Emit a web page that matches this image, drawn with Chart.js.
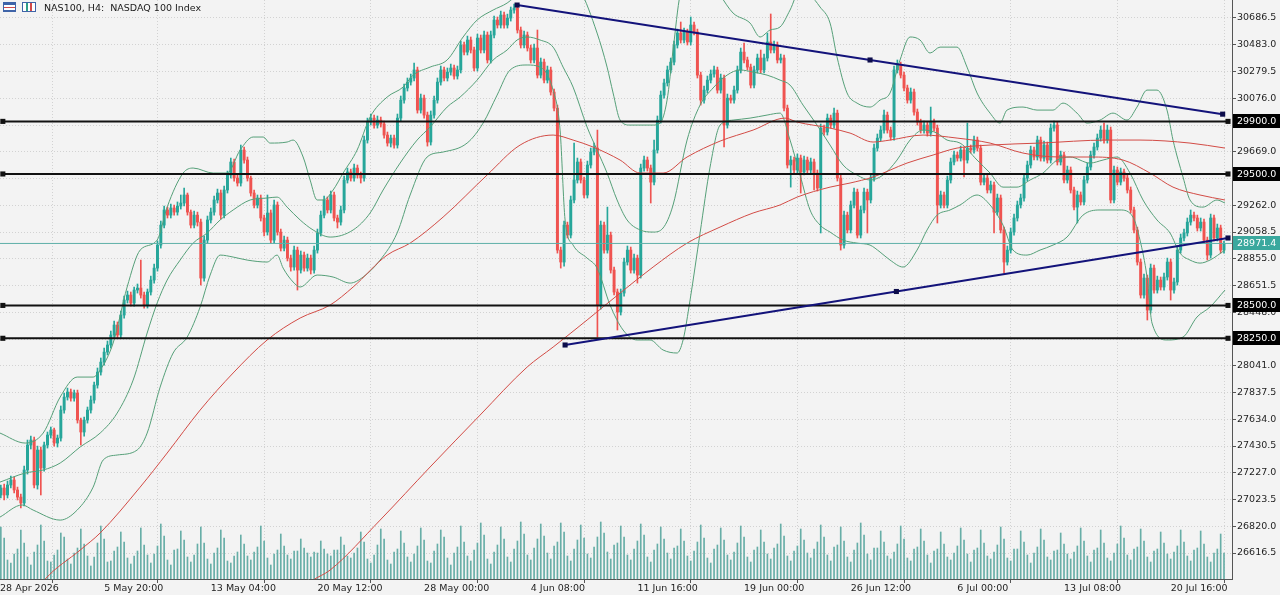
<!DOCTYPE html>
<html>
<head>
<meta charset="utf-8">
<title>NAS100, H4</title>
<script src="https://cdn.jsdelivr.net/npm/chart.js@4.4.1/dist/chart.umd.min.js"></script>
<style>
  html, body { margin: 0; padding: 0; background: #f3f3f3; }
  #wrap { position: relative; width: 1280px; height: 595px; overflow: hidden; }
  #title { position: absolute; left: 3px; top: 1px; height: 12px; display: flex; align-items: center;
           font: 9.5px "DejaVu Sans", sans-serif; color: #1a1a1a; white-space: pre; pointer-events: none; }
  .ico1 { width: 13px; height: 10px; box-sizing: border-box; border: 1px solid #3f64a8; background:
          linear-gradient(#3f64a8 0 2px, #fff 2px 4px, #d24a4a 4px 5px, #fff 5px 7px, #3f64a8 7px 8px); margin-right: 6px; }
  .ico2 { width: 14px; height: 10px; box-sizing: border-box; border: 1px solid #3f64a8; background:
          linear-gradient(90deg, #fff 0 3px, #2f9e8a 3px 5px, #fff 5px 7px, #d24a4a 7px 9px, #fff 9px); margin-right: 8px; }
</style>
</head>
<body>
<div id="wrap">
  <canvas id="chart" width="1280" height="595"></canvas>
  <div id="title"><span class="ico1"></span><span class="ico2"></span>NAS100, H4:  NASDAQ 100 Index</div>
</div>
<script>
// --- time axis (one label every 32 H4 bars) ---
const tickBars = [0.76, 32, 64, 96, 128, 160, 192, 224, 256, 288, 320, 352];
const timeLabels = ['28 Apr 2026', '5 May 20:00', '13 May 04:00', '20 May 12:00', '28 May 00:00', '4 Jun 08:00',
  '11 Jun 16:00', '19 Jun 00:00', '26 Jun 12:00', '6 Jul 00:00', '13 Jul 08:00', '20 Jul 16:00'];

// --- price axis ---
const priceTicks = [26616.5, 26820.0, 27023.5, 27227.0, 27430.5, 27634.0, 27837.5, 28041.0, 28244.5, 28448.0,
  28651.5, 28855.0, 29058.5, 29262.0, 29465.5, 29669.0, 29872.5, 30076.0, 30279.5, 30483.0, 30686.5];

// --- candles (bar 0 = first bar on the left) ---
const opens = [
  26943,27058,27111,27058,27134,27172,27096,27042,26997,27248, 27438,27476,27134,27400,27263,27438,27514,27552,27453,27491,
  27704,27803,27841,27795,27833,27628,27537,27628,27704,27780, 27894,27993,28069,28145,28199,28275,28351,28275,28427,28541,
  28579,28518,28617,28632,28579,28503,28602,28693,28784,28959, 29111,29226,29187,29241,29210,29256,29279,29340,29210,29111,
  29187,29134,28708,28997,29150,29210,29302,29355,29187,29378, 29492,29591,29469,29431,29682,29606,29469,29355,29264,29317,
  29165,29058,29203,28997,29264,29058,28936,28997,28860,28792, 28921,28769,28883,28784,28860,28769,28921,29051,29187,29302,
  29226,29340,29165,29134,29226,29454,29515,29469,29545,29492, 29469,29758,29895,29925,29872,29910,29880,29796,29735,29773,
  29720,29925,30062,30154,30199,30230,30291,29986,30077,29948, 29743,29948,30062,30199,30291,30230,30275,30306,30245,30291,
  30481,30427,30519,30443,30306,30534,30443,30557,30367,30557, 30671,30633,30709,30633,30686,30747,30762,30595,30481,30557,
  30458,30367,30458,30252,30351,30214,30291,30123,30001,28921, 28830,29111,29035,29302,29454,29591,29454,29340,29568,29667,
  29697,28503,29111,28921,29035,28769,28602,28450,28594,28830, 28921,28769,28860,28731,29545,29606,29545,29438,29682,29910,
  30100,30192,30291,30351,30481,30572,30519,30580,30504,30633, 30580,30252,30062,30138,30214,30260,30291,30138,30230,29872,
  30077,30062,30138,30291,30427,30367,30313,30176,30291,30382, 30291,30382,30504,30443,30481,30367,30382,30001,29568,29606,
  29530,29621,29515,29606,29530,29591,29507,29393,29849,29819, 29925,29872,29963,29469,28959,29187,29074,29264,29362,29035,
  29226,29362,29302,29469,29697,29773,29834,29948,29834,29781, 30291,30329,30252,30154,30062,30123,29971,29895,29834,29872,
  29811,29895,29849,29264,29340,29264,29454,29591,29644,29621, 29682,29606,29697,29682,29758,29697,29438,29469,29378,29416,
  29210,29317,29074,28830,28921,29058,29165,29264,29317,29469, 29568,29682,29629,29758,29621,29720,29606,29849,29872,29591,
  29644,29454,29530,29378,29248,29340,29287,29454,29553,29644, 29705,29773,29834,29758,29834,29302,29530,29438,29515,29469,
  29378,29226,29074,28830,28579,28708,28465,28784,28617,28693, 28640,28716,28830,28617,28678,28921,29013,29051,29134,29187,
  29165,29089,29134,28997,28883,29165,29013,29089,28921
];
const highs = [
  27080,27134,27141,27164,27202,27194,27118,27065,27278,27476, 27506,27499,27430,27423,27461,27537,27575,27567,27514,27735,
  27833,27871,27864,27856,27856,27643,27651,27727,27811,27917, 28024,28100,28176,28229,28305,28381,28374,28457,28571,28609,
  28602,28640,28663,28845,28602,28625,28723,28815,28990,29142, 29256,29248,29271,29264,29287,29340,29393,29355,29226,29218,
  29210,29157,29028,29180,29241,29332,29385,29378,29408,29522, 29621,29614,29492,29720,29705,29629,29484,29378,29340,29340,
  29187,29340,29226,29302,29287,29081,29028,29020,28883,28952, 28944,28914,28906,28891,28883,28952,29081,29218,29332,29325,
  29370,29363,29187,29256,29484,29545,29537,29575,29568,29515, 29788,29925,29956,29948,29941,29933,29903,29819,29796,29796,
  29956,30093,30184,30230,30260,30344,30313,30108,30100,29971, 29979,30093,30230,30321,30313,30306,30336,30328,30321,30511,
  30504,30549,30542,30465,30564,30557,30587,30580,30587,30701, 30694,30739,30732,30716,30770,30793,30777,30618,30587,30580,
  30481,30488,30595,30382,30374,30321,30313,30146,30024,28944, 29142,29134,29332,29735,29621,29614,29477,29598,29697,29735,
  29834,29142,29134,29248,29058,28792,28625,28625,28860,28952, 28944,28891,28883,29575,29636,29629,29568,29758,29941,30131,
  30222,30321,30382,30511,30602,30656,30610,30602,30694,30656, 30602,30275,30169,30245,30291,30321,30313,30260,30252,30108,
  30100,30169,30321,30458,30496,30389,30336,30321,30412,30443, 30412,30572,30717,30511,30504,30412,30405,30024,29636,29629,
  29652,29644,29636,29629,29621,29614,29530,29880,29872,29956, 29948,30001,29986,29492,29218,29210,29294,29393,29385,29256,
  29393,29385,29499,29728,29804,29865,29986,29971,29857,30321, 30367,30351,30275,30176,30154,30146,29994,29917,29903,29895,
  30009,29917,29872,29370,29363,29484,29621,29674,29667,29712, 29705,29887,29720,29788,29781,29720,29499,29492,29446,29438,
  29347,29340,29096,28952,29089,29195,29294,29347,29499,29598, 29712,29705,29788,29781,29750,29743,29880,29903,29895,29674,
  29667,29560,29553,29401,29370,29363,29484,29583,29674,29735, 29804,29865,29887,29872,29857,29560,29553,29545,29537,29492,
  29401,29248,29096,28853,28739,28731,28815,28807,28723,28716, 28746,28860,28853,28708,28952,29043,29081,29165,29226,29210,
  29187,29165,29157,29020,29195,29187,29119,29111,28990
];
const lows = [
  26921,27035,27020,27035,27111,27073,27020,26959,26974,27217, 27408,27111,27103,27058,27240,27415,27491,27430,27423,27468,
  27681,27780,27772,27772,27605,27438,27506,27605,27681,27757, 27871,27970,28046,28123,28176,28252,28252,28252,28404,28518,
  28495,28495,28594,28556,28480,28480,28579,28670,28761,28936, 29089,29165,29165,29187,29187,29233,29256,29187,29089,29089,
  29104,28655,28685,28974,29127,29187,29279,29157,29165,29355, 29469,29446,29408,29408,29583,29446,29332,29241,29241,29142,
  29028,29035,28974,28974,29035,28914,28914,28838,28761,28769, 28617,28746,28761,28761,28739,28746,28898,29028,29165,29203,
  29203,29142,29089,29111,29203,29431,29446,29446,29469,29431, 29446,29735,29872,29849,29849,29857,29773,29712,29705,29697,
  29697,29902,30039,30131,30176,30207,29963,29963,29925,29712, 29720,29925,30039,30176,30207,30207,30252,30222,30222,30268,
  30405,30405,30420,30283,30283,30420,30420,30344,30344,30534, 30610,30610,30610,30610,30663,30724,30572,30458,30458,30435,
  30344,30344,30230,30230,30192,30192,30100,29979,28898,28784, 28799,29013,29013,29279,29431,29431,29317,29317,29545,29644,
  28259,28472,28898,28898,28746,28579,28313,28427,28571,28807, 28746,28746,28670,28708,29522,29522,29279,29416,29659,29887,
  30077,30169,30268,30329,30458,30496,30496,30481,30481,30557, 30230,30024,30039,30115,30192,30237,30115,30115,29705,29849,
  30039,30039,30115,30268,30344,30291,30154,30154,30268,30268, 30268,30359,30420,30420,30344,30344,29979,29545,29400,29507,
  29507,29355,29492,29507,29507,29378,29370,29051,29796,29796, 29849,29849,29446,28921,28936,29051,29051,29241,29013,29013,
  29203,29051,29279,29446,29674,29750,29811,29811,29758,29758, 30268,30230,30131,30039,30039,29948,29872,29811,29811,29788,
  29788,29826,29127,29241,29241,29241,29431,29568,29598,29598, 29477,29583,29659,29659,29674,29416,29416,29355,29355,29051,
  29187,29051,28746,28807,28898,29035,29142,29241,29294,29446, 29545,29606,29606,29598,29598,29583,29583,29826,29568,29568,
  29431,29431,29355,29226,29127,29264,29264,29431,29530,29621, 29682,29750,29735,29735,29279,29279,29416,29416,29446,29355,
  29203,29051,28807,28556,28556,28389,28442,28594,28594,28617, 28617,28693,28541,28594,28655,28898,28990,29028,29111,29142,
  29066,29066,28974,28845,28860,28990,28990,28898,28898
];
const closes = [
  27058,27111,27058,27134,27172,27096,27042,26997,27248,27438, 27476,27134,27400,27263,27438,27514,27552,27453,27491,27704,
  27803,27841,27795,27833,27628,27537,27628,27704,27780,27894, 27993,28069,28145,28199,28275,28351,28275,28427,28541,28579,
  28518,28617,28632,28579,28503,28602,28693,28784,28959,29111, 29226,29187,29241,29210,29256,29279,29340,29210,29111,29187,
  29134,28708,28997,29150,29210,29302,29355,29187,29378,29492, 29591,29469,29431,29682,29606,29469,29355,29264,29317,29165,
  29058,29203,28997,29264,29058,28936,28997,28860,28792,28921, 28769,28883,28784,28860,28769,28921,29051,29187,29302,29226,
  29340,29165,29134,29226,29454,29515,29469,29545,29492,29469, 29758,29895,29925,29872,29910,29880,29796,29735,29773,29720,
  29925,30062,30154,30199,30230,30291,29986,30077,29948,29743, 29948,30062,30199,30291,30230,30275,30306,30245,30291,30481,
  30427,30519,30443,30306,30534,30443,30557,30367,30557,30671, 30633,30709,30633,30686,30747,30762,30595,30481,30557,30458,
  30367,30458,30252,30351,30214,30291,30123,30001,28921,28830, 29111,29035,29302,29454,29591,29454,29340,29568,29667,29697,
  28503,29111,28921,29035,28769,28602,28450,28594,28830,28921, 28769,28860,28731,29545,29606,29545,29438,29682,29910,30100,
  30192,30291,30351,30481,30572,30519,30580,30504,30633,30580, 30252,30062,30138,30214,30260,30291,30138,30230,29872,30077,
  30062,30138,30291,30427,30367,30313,30176,30291,30382,30291, 30382,30504,30443,30481,30367,30382,30001,29568,29606,29530,
  29621,29515,29606,29530,29591,29507,29393,29849,29819,29925, 29872,29963,29469,28959,29187,29074,29264,29362,29035,29226,
  29362,29302,29469,29697,29773,29834,29948,29834,29781,30291, 30329,30252,30154,30062,30123,29971,29895,29834,29872,29811,
  29895,29849,29264,29340,29264,29454,29591,29644,29621,29682, 29606,29697,29682,29758,29697,29438,29469,29378,29416,29210,
  29317,29074,28830,28921,29058,29165,29264,29317,29469,29568, 29682,29629,29758,29621,29720,29606,29849,29872,29591,29644,
  29454,29530,29378,29248,29340,29287,29454,29553,29644,29705, 29773,29834,29758,29834,29302,29530,29438,29515,29469,29378,
  29226,29074,28830,28579,28708,28465,28784,28617,28693,28640, 28716,28830,28617,28678,28921,29013,29051,29134,29187,29165,
  29089,29134,28997,28883,29165,29013,29089,28921,28971.4
];
const volumes = [
  3300,5200,4100,1900,1600,2500, 3000,4900,3600,2200,1400,2700, 3400,5400,3800,1800,1700,2400, 2900,4600,4200,2000,1500,2600,
  3100,5000,3500,2300,1300,2200, 3600,5300,4000,1700,1800,2800, 3200,4700,3700,2100,1500,2300, 2800,5100,3400,2400,1600,2500,
  3300,5500,4300,1900,1400,2900, 3000,4800,3900,2200,1700,2400, 3500,5200,3600,2000,1500,2600, 3100,4900,4100,1800,1600,2300,
  2700,4400,3500,2300,1900,2700, 3200,5300,3800,2100,1400,2500, 2900,4500,3300,2400,2000,2800, 2800,4000,3100,2600,2200,2700,
  2600,3800,3000,2500,2300,2900, 2900,4200,3400,2300,2100,2600, 3100,4700,3700,2000,1600,2400, 3400,5000,4000,1900,1500,2700,
  3000,4800,3600,2200,1700,2500, 3300,5100,3900,1800,1600,2800, 3500,4900,4200,2100,1400,2600, 3200,5300,3700,2300,1800,2900,
  3600,5600,4400,2000,1500,2700, 3400,5200,4000,2200,1700,3000, 3800,5700,4500,2400,1900,3100, 4000,5500,4300,2600,2000,3300,
  3700,5600,4700,2300,1800,3000, 3900,5400,4100,2500,2100,3200, 4200,5700,4600,2700,2000,3400, 3600,5300,4200,2400,1900,3000,
  3800,5500,4400,2200,1700,2900, 3500,5200,4000,2600,2000,3100, 3300,5000,3800,2300,1800,2800, 3700,5400,4100,2100,1600,3000,
  3400,5100,3900,2400,1900,2700, 3600,5300,4200,2200,1700,2900, 3200,4900,3700,2500,2000,3100, 3500,5500,4300,2300,1800,2800,
  3300,5000,3900,2600,2100,3000, 3700,5400,4200,2400,1800,3200, 3400,5200,3800,2200,1700,2900, 3600,5600,4400,2500,1900,3100,
  3100,4800,3700,2300,2000,2700, 3500,5300,4000,2100,1800,3000, 3200,5000,3800,2400,1600,2800, 3000,4700,3500,2200,1900,2600,
  3300,5100,3900,2500,1700,2900, 3100,4900,3600,2300,2000,2700, 3400,5200,4000,2100,1800,3000, 3000,4800,3700,2400,1600,2600,
  3200,5000,3900,2200,1900,2800, 2900,4600,3500,2500,2000,2700, 3300,5100,3800,2300,1700,2900, 3100,4900,3600,2100,1800,2600,
  3500,5300,4100,2400,1900,3000, 3200,5000,3800,2200,1700,2800, 3000,4700,3600,2500,2000,2700, 3300,4900,3700,2300,1800,2900,
  3100,4800,3500,2200,1700,2600, 3000,4500,2600
];

// --- indicator lines: [bar, price] ---
const bbUpper = [[0.75,27529],[8.3,27453],[13.7,27529],[18.8,27803],[23.9,27955],[28.7,27955],[30.8,28008],[34.7,28214],
  [38.9,28640],[42.8,28921],[47.9,28997],[50.9,29248],[55.7,29507],[58.7,29545],[64.7,29507],[68.9,29507],[72.8,29682],
  [76.7,29781],[79.7,29781],[81.8,29735],[86.9,29743],[88.7,29758],[91.7,29629],[93.8,29454],[95.9,29302],[97.7,29302],
  [100.7,29378],[103.7,29507],[107.9,29682],[111.8,29933],[116.9,30085],[121.7,30161],[124.7,30252],[129.8,30313],
  [134.9,30367],[139.7,30542],[143.9,30671],[148.7,30747],[152.9,30800],[156.8,30884],[162.8,31013],[168.8,31051],
  [174.8,30899],[179.9,30572],[182.9,30313],[184.7,30116],[186.8,29910],[189.8,29872],[196.7,29872],[198.8,29887],
  [200.9,30062],[202.7,30443],[204.8,30861],[210.8,31089],[216.8,30861],[220.7,30724],[225.8,30648],[228.8,30542],
  [231.8,30595],[234.8,30618],[237.8,30747],[240.8,30899],[243.8,30861],[246.8,30770],[249.8,30648],[251.9,30389],
  [254.9,30116],[257.9,30039],[261.8,30009],[264.8,30062],[267.8,30116],[270.8,30367],[273.8,30542],[276.8,30519],
  [279.8,30420],[282.8,30465],[287.9,30465],[290.9,30313],[293.9,30116],[297.8,29963],[300.8,29887],[302.9,29986],
  [307.7,30009],[311.9,29986],[316.7,29986],[319.7,30039],[323.9,29963],[326.9,29887],[330.8,29910],[334.7,29963],
  [338.9,29910],[341.9,30009],[344.9,30138],[347.9,30138],[350.9,29986],[352.7,29758],[355.7,29477],[357.8,29302],
  [361.7,29248],[365.9,29302],[368.3,29279]];
const bbMiddle = [[0.75,27156],[8.3,27225],[13.7,27248],[18.8,27301],[24.8,27423],[30.8,27529],[35.9,27681],[40.7,27932],
  [44.9,28290],[47.9,28518],[50.9,28693],[54.8,28845],[58.7,28974],[62.9,29051],[66.8,29150],[70.7,29226],[75.8,29302],
  [80.9,29317],[83.9,29324],[86.9,29248],[90.8,29150],[94.7,29074],[99.8,29020],[106.7,29074],[111.8,29203],
  [115.7,29378],[120.8,29583],[125.9,29758],[129.8,29857],[134.9,30009],[138.8,30085],[143.9,30214],[148.7,30367],
  [152.9,30443],[155.9,30519],[158.9,30542],[162.8,30519],[166.7,30465],[169.7,30313],[172.7,30161],[176.9,29857],
  [179.9,29682],[182.9,29507],[185.9,29302],[188.9,29150],[192.8,29074],[196.7,29058],[199.7,29089],[202.7,29264],
  [206.9,29758],[210.8,30024],[214.7,30154],[218.9,30252],[222.8,30291],[226.7,30275],[230.9,30252],[234.8,30214],
  [237.8,30176],[241.7,30024],[245.9,29872],[249.8,29720],[253.7,29568],[257.9,29492],[261.8,29454],[265.7,29492],
  [269.9,29606],[273.8,29758],[277.7,29834],[281.9,29811],[284.9,29758],[288.8,29735],[293.9,29606],[297.8,29507],
  [301.7,29400],[305.9,29400],[309.8,29454],[313.7,29507],[317.9,29606],[321.8,29629],[327.8,29583],[331.7,29606],
  [335.9,29629],[339.8,29507],[343.7,29302],[347.9,29150],[351.8,29051],[354.8,28898],[357.8,28845],[360.8,28822],
  [363.8,28845],[368.3,28921]];
const bbLower = [[0.75,26890],[7.4,26982],[10.7,26943],[18.8,26867],[23.9,26943],[28.7,27118],[31.7,27324],[35.9,27362],
  [41.9,27400],[44.9,27529],[48.8,27879],[52.7,28138],[56.9,28259],[60.8,28488],[63.8,28731],[66.8,28883],[70.7,28868],
  [74.9,28845],[80.9,28830],[83.9,28883],[85.7,28784],[88.7,28678],[90.8,28640],[95.9,28731],[100.7,28716],[105.8,28670],
  [109.7,28716],[114.8,28845],[119.9,29051],[123.8,29340],[128.9,29629],[133.7,29667],[140.9,29735],[145.7,29887],
  [149.9,30100],[153.8,30291],[158.9,30329],[162.8,30313],[166.7,30138],[168.8,29834],[170.3,29150],[172.7,28959],
  [176.9,28860],[179.9,28784],[183.8,28503],[187.7,28313],[191.9,28237],[195.8,28237],[199.7,28161],[203.9,28138],
  [205.7,28237],[207.8,28541],[210.8,29051],[213.8,29553],[216.8,29872],[220.7,29910],[225.8,29925],[230.9,29948],
  [234.8,29963],[237.8,29758],[240.8,29492],[243.8,29226],[246.8,29111],[249.8,29058],[253.7,28997],[257.9,28974],
  [261.8,28959],[264.8,28906],[267.8,28845],[271.7,28792],[275.9,28921],[278.9,29074],[281.9,29187],[285.8,29226],
  [288.8,29264],[293.9,29340],[297.8,29264],[301.7,29111],[304.7,28921],[308.9,28883],[312.8,28921],[316.7,28959],
  [320.9,29020],[325.7,29187],[330.8,29226],[336.8,29226],[340.7,29172],[342.8,28997],[344.9,28716],[346.4,28366],
  [350.9,28237],[355.7,28259],[359.9,28412],[363.8,28488],[368.3,28617]];
const maFast = [[9.8,26259],[14.3,26418],[24.8,26639],[30.8,26769],[42.8,27118],[50.9,27377],[60.8,27704],[70.7,27986],
  [80.9,28237],[90.8,28404],[99.8,28503],[106.7,28640],[116.9,28883],[123.8,28974],[133.7,29172],[146.9,29492],
  [156.8,29720],[166.7,29796],[172.7,29758],[178.7,29705],[186.8,29606],[192.8,29507],[199.7,29507],[206.9,29629],
  [216.8,29750],[226.7,29834],[236.3,29925],[239.9,29895],[249.8,29849],[255.8,29811],[262.7,29743],[267.8,29758],
  [277.7,29796],[287.9,29773],[297.8,29735],[307.7,29659],[318.8,29629],[327.8,29629],[337.7,29606],[345.8,29507],
  [352.7,29400],[360.8,29340],[368.3,29302]];
const maSlow = [[90.8,26335],[94.7,26411],[99.8,26487],[114.8,26867],[129.8,27271],[144.8,27666],[158.9,28031],
  [166.7,28183],[176.9,28389],[186.8,28594],[196.7,28792],[206.9,28974],[216.8,29096],[226.7,29203],[234.8,29264],
  [239.9,29324],[249.8,29400],[255.8,29431],[262.7,29477],[272.9,29583],[280.7,29644],[287.9,29697],[297.8,29720],
  [312.8,29735],[332.9,29758],[342.8,29758],[357.8,29735],[368.3,29697]];

// --- drawn objects ---
const trendUpper = [[155.9,30785],[261.8,30367],[367.6,29955]];
const trendLower = [[170.3,28199],[269.7,28606],[369.2,29013]];
const levels = [29900, 29500, 28500, 28250];
const lastPrice = 28971.4;

const X_MIN = 0.75, X_MAX = 370.4;
const Y_MIN = 26418.9, Y_MAX = 30823.4;

const UP = '#26a69a', DOWN = '#ef5350';
const candleColor = closes.map((c, i) => c >= opens[i] ? UP : DOWN);
const pts = arr => arr.map(([x, y]) => ({x, y}));

const datasets = [];

datasets.push({
  type: 'bar', label: 'volume', yAxisID: 'yv', order: 20, grouped: false,
  data: volumes.map((v, i) => ({x: i, y: v})),
  backgroundColor: '#67aea7', barThickness: 1, borderWidth: 0
});
datasets.push({
  type: 'bar', label: 'wick', yAxisID: 'y', order: 12, grouped: false,
  data: highs.map((h, i) => ({x: i, y: [lows[i], h]})),
  backgroundColor: candleColor, barThickness: 1, borderWidth: 0
});
datasets.push({
  type: 'bar', label: 'body', yAxisID: 'y', order: 11, grouped: false,
  data: opens.map((o, i) => ({x: i, y: [Math.min(o, closes[i]), Math.max(o, closes[i])]})),
  backgroundColor: candleColor, barThickness: 2.3, borderWidth: 0, minBarLength: 1
});

function lineSet(label, data, color, width, order, extra) {
  return Object.assign({
    type: 'line', label, yAxisID: 'y', order, data: pts(data),
    borderColor: color, borderWidth: width, pointRadius: 0, fill: false,
    cubicInterpolationMode: 'monotone'
  }, extra || {});
}

datasets.push(lineSet('bbUpper', bbUpper, '#559f78', 1, 9));
datasets.push(lineSet('bbMiddle', bbMiddle, '#559f78', 1, 9));
datasets.push(lineSet('bbLower', bbLower, '#559f78', 1, 9));
datasets.push(lineSet('maFast', maFast, '#d24b45', 1, 8));
datasets.push(lineSet('maSlow', maSlow, '#d24b45', 1, 8));

datasets.push(lineSet('last', [[X_MIN, lastPrice], [X_MAX, lastPrice]], '#5fb0a8', 1, 7,
  {cubicInterpolationMode: 'default', tension: 0}));

levels.forEach(v => {
  datasets.push(lineSet('level ' + v, [[1.6, v], [369.2, v]], '#111111', 2, 5, {
    cubicInterpolationMode: 'default', tension: 0,
    pointRadius: 3.6, pointStyle: 'rect', pointBackgroundColor: '#111111', pointBorderWidth: 0
  }));
});

[trendUpper, trendLower].forEach((t, k) => {
  datasets.push(lineSet('trend ' + k, t, '#13137a', 2, 4, {
    cubicInterpolationMode: 'default', tension: 0,
    pointRadius: 3.6, pointStyle: 'rect', pointBackgroundColor: '#0c0c4a', pointBorderWidth: 0
  }));
});

const axisFont = {family: 'DejaVu Sans', size: 9.5};

// price boxes on the right axis
const priceBoxes = {
  id: 'priceBoxes',
  afterDraw(chart) {
    const ctx = chart.ctx;
    const y = chart.scales.y;
    const left = chart.chartArea.right + 1;
    const boxes = levels.map(v => ({v, bg: '#000000'})).concat([{v: lastPrice, bg: '#3aa89e'}]);
    ctx.save();
    ctx.font = '9.5px "DejaVu Sans"';
    ctx.textBaseline = 'middle';
    boxes.forEach(b => {
      const py = Math.round(y.getPixelForValue(b.v));
      ctx.fillStyle = b.bg;
      ctx.fillRect(left, py - 7, 47, 14);
      ctx.fillStyle = '#ffffff';
      ctx.fillText(b.v.toFixed(1), left + 4, py + 0.5);
    });
    ctx.restore();
  }
};

new Chart(document.getElementById('chart').getContext('2d'), {
  type: 'bar',
  data: {datasets},
  plugins: [priceBoxes],
  options: {
    responsive: false,
    animation: false,
    events: [],
    layout: {padding: 0, autoPadding: false},
    plugins: {legend: {display: false}, tooltip: {enabled: false}},
    scales: {
      x: {
        type: 'linear', min: X_MIN, max: X_MAX, offset: false,
        afterBuildTicks: s => { s.ticks = tickBars.map(v => ({value: v})); },
        afterFit: s => { s.height = 16; s.paddingLeft = 0; s.paddingRight = 0; },
        ticks: {
          autoSkip: false, maxRotation: 0, align: 'start', padding: 0,
          font: axisFont, color: '#1e1e1e',
          callback: (v, i) => timeLabels[i]
        },
        grid: {color: '#d2d2d2', tickColor: '#555555', tickLength: 4, lineWidth: 1},
        border: {display: true, color: '#555555', width: 1, dash: [1, 2]}
      },
      y: {
        type: 'linear', position: 'right', min: Y_MIN, max: Y_MAX,
        afterBuildTicks: s => { s.ticks = priceTicks.map(v => ({value: v})); },
        afterFit: s => { s.width = 48; s.paddingTop = 0; s.paddingBottom = 0; },
        ticks: {
          autoSkip: false, padding: 1, font: axisFont, color: '#1e1e1e',
          callback: v => v.toFixed(1)
        },
        grid: {color: '#d2d2d2', tickColor: '#555555', tickLength: 4, lineWidth: 1},
        border: {display: true, color: '#555555', width: 1, dash: [1, 2]}
      },
      yv: {type: 'linear', display: false, min: 0, max: 57900}
    }
  }
});
</script>
</body>
</html>
